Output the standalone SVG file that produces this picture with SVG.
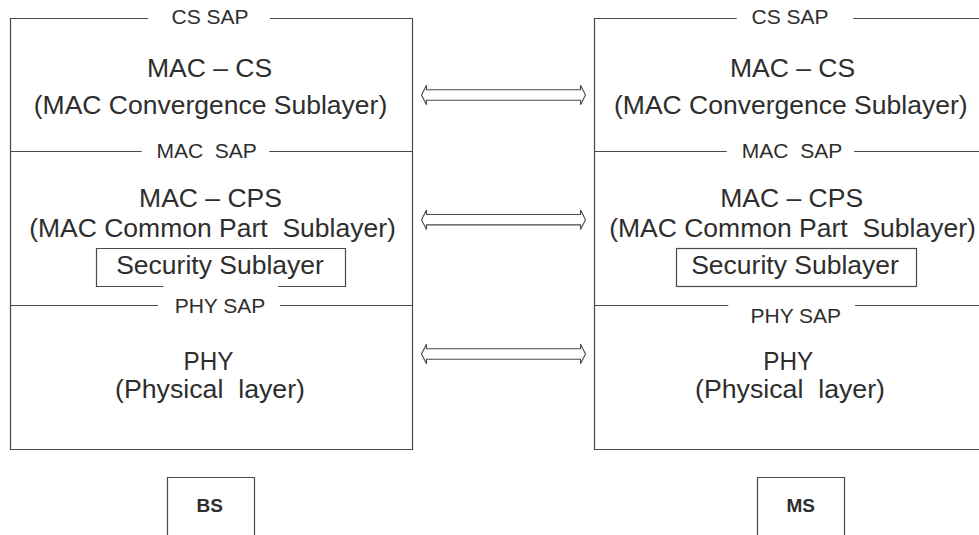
<svg xmlns="http://www.w3.org/2000/svg" width="979" height="535" viewBox="0 0 979 535">
<style>
  .ln { fill: none; stroke: #4a4a4a; stroke-width: 1.2; }
  .arr { fill: #fff; stroke: #4a4a4a; stroke-width: 1.1; stroke-linejoin: miter; }
  text { font-family: "Liberation Sans", Arial, sans-serif; fill: #2e2e2e; text-anchor: middle; white-space: pre; }
  .big { font-size: 26.5px; }
  .phy { font-size: 25px; }
  .sap { font-size: 21px; }
  .tag { font-size: 19px; font-weight: bold; }
</style>
<rect width="979" height="535" fill="#fff"/>

<g id="bs-stack">
  <path class="ln" d="M148,18.5 H10.5 V449.5 H412.5 V18.5 H270"/>
  <g id="bs-mac-cs">
    <text class="sap" x="210" y="23.5">CS SAP</text>
    <text class="big" x="209.5" y="77">MAC – CS</text>
    <text class="big" x="210.5" y="114">(MAC Convergence Sublayer)</text>
  </g>
  <g id="bs-mac-cps">
    <path class="ln" d="M10.5,151.5 H141.7 M269.3,151.5 H412.5"/>
    <text class="sap" x="206.7" y="158.3" xml:space="preserve">MAC  SAP</text>
    <text class="big" x="210.5" y="206.5">MAC – CPS</text>
    <text class="big" x="212.5" y="236.5" xml:space="preserve">(MAC Common Part  Sublayer)</text>
  </g>
  <g id="bs-security">
    <path class="ln" d="M163.3,286.5 H96.5 V248.5 H345.5 V286.5 H278.3"/>
    <text class="big" x="220" y="273.5">Security Sublayer</text>
  </g>
  <g id="bs-phy">
    <path class="ln" d="M10.5,305.5 H158 M280,305.5 H412.5"/>
    <text class="sap" x="220" y="312.7">PHY SAP</text>
    <text class="phy" x="208.5" y="370" textLength="50" lengthAdjust="spacingAndGlyphs">PHY</text>
    <text class="phy" x="210" y="398" xml:space="preserve" textLength="190" lengthAdjust="spacingAndGlyphs">(Physical  layer)</text>
  </g>
</g>

<g id="bs-label">
  <path class="ln" d="M167.5,535 V477.5 H254.5 V535"/>
  <text class="tag" x="209.7" y="511.7">BS</text>
</g>

<g id="ms-stack">
  <path class="ln" d="M736.7,18.5 H594.5 V449.5 H985 M853.3,18.5 H985"/>
  <g id="ms-mac-cs">
    <text class="sap" x="790" y="23.5">CS SAP</text>
    <text class="big" x="792.5" y="77">MAC – CS</text>
    <text class="big" x="790.8" y="114">(MAC Convergence Sublayer)</text>
  </g>
  <g id="ms-mac-cps">
    <path class="ln" d="M594.5,151.5 H726.7 M854,151.5 H985"/>
    <text class="sap" x="792" y="158.3" xml:space="preserve">MAC  SAP</text>
    <text class="big" x="791.7" y="206.5">MAC – CPS</text>
    <text class="big" x="792.5" y="236.5" xml:space="preserve">(MAC Common Part  Sublayer)</text>
  </g>
  <g id="ms-security">
    <rect class="ln" x="676.5" y="248.5" width="240" height="38"/>
    <text class="big" x="795" y="273.5">Security Sublayer</text>
  </g>
  <g id="ms-phy">
    <path class="ln" d="M594.5,305.5 H728.3 M855,305.5 H985"/>
    <text class="sap" x="795.8" y="322.5">PHY SAP</text>
    <text class="phy" x="788.3" y="370" textLength="50" lengthAdjust="spacingAndGlyphs">PHY</text>
    <text class="phy" x="790" y="398" xml:space="preserve" textLength="190" lengthAdjust="spacingAndGlyphs">(Physical  layer)</text>
  </g>
</g>

<g id="ms-label">
  <path class="ln" d="M757.5,535 V477.5 H844.5 V535"/>
  <text class="tag" x="800.8" y="511.7">MS</text>
</g>

<g id="connectors">
  <path class="arr" d="M426.5,89.8 V85.2 L421.5,95 L426.5,104.8 V100.2 H580.5 V104.8 L585.5,95 L580.5,85.2 V89.8 Z"/>
  <path class="arr" d="M426.5,214.5 V209.9 L421.5,219.7 L426.5,229.5 V224.9 H580.5 V229.5 L585.5,219.7 L580.5,209.9 V214.5 Z"/>
  <path class="arr" d="M426.5,348.8 V344.2 L421.5,354 L426.5,363.8 V359.2 H580.5 V363.8 L585.5,354 L580.5,344.2 V348.8 Z"/>
</g>
</svg>
